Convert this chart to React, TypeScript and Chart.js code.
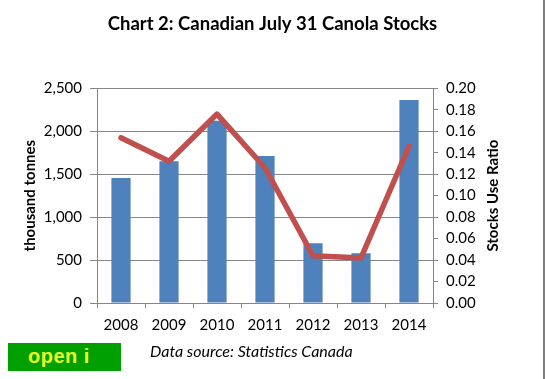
import React, { useEffect, useRef } from "react";
import { Chart, registerables } from "chart.js";

Chart.register(...registerables);

const years = ["2008", "2009", "2010", "2011", "2012", "2013", "2014"];
const stocks = [1455, 1652, 2122, 1711, 696, 580, 2363];
const stocksUseRatio = [0.154, 0.132, 0.176, 0.126, 0.044, 0.042, 0.146];
const titleText = "Chart 2: Canadian July 31 Canola Stocks";
const leftTitle = "thousand tonnes";
const rightTitle = "Stocks Use Ratio";
const sourceText = "Data source: Statistics Canada";
const badgeText = "open i";

const FONT = "Lato, 'Open Sans', sans-serif";
const GRID = "#868686";

const rightTitlePlugin = {
  id: "rightTitle",
  afterDraw(chart: any) {
    const { ctx, chartArea } = chart;
    ctx.save();
    ctx.font = `bold 15px ${FONT}`;
    ctx.fillStyle = "#000";
    ctx.textAlign = "center";
    ctx.textBaseline = "middle";
    ctx.translate(493, (chartArea.top + chartArea.bottom) / 2);
    ctx.rotate(-Math.PI / 2);
    ctx.fillText(rightTitle, 0, 0);
    ctx.restore();
  },
};

export default function App() {
  const ref = useRef<HTMLCanvasElement>(null);
  useEffect(() => {
    const chart = new Chart(ref.current!, {
      type: "bar",
      data: {
        labels: years,
        datasets: [
          {
            type: "line",
            label: "Stocks Use Ratio",
            data: stocksUseRatio,
            yAxisID: "y1",
            borderColor: "#C0504D",
            backgroundColor: "#C0504D",
            borderWidth: 5.5,
            pointRadius: 0,
            tension: 0,
            fill: false,
            borderCapStyle: "round",
            borderJoinStyle: "round",
            order: 0,
          } as any,
          {
            type: "bar",
            label: "Stocks",
            data: stocks,
            yAxisID: "y",
            backgroundColor: "#4F81BD",
            categoryPercentage: 1,
            barPercentage: 0.4,
            order: 1,
          },
        ],
      },
      options: {
        responsive: false,
        animation: false,
        devicePixelRatio: 1,
        layout: { padding: 0 },
        plugins: {
          legend: { display: false },
          tooltip: { enabled: false },
          title: {
            display: true,
            text: titleText,
            color: "#000",
            font: { family: FONT, size: 18.5, weight: "bold" },
            padding: { top: 13, bottom: 53.1 },
          },
        },
        scales: {
          x: {
            grid: {
              offset: true,
              drawOnChartArea: false,
              drawTicks: true,
              tickLength: 5,
              color: GRID,
            },
            border: { color: GRID },
            ticks: { color: "#000", font: { family: FONT, size: 15 }, padding: 8 },
            afterFit: (s: any) => {
              s.height = 76;
            },
          },
          y: {
            position: "left",
            min: 0,
            max: 2500,
            ticks: {
              stepSize: 500,
              color: "#000",
              font: { family: FONT, size: 15 },
              padding: 8,
              callback: (v: any) => Number(v).toLocaleString("en-US"),
            },
            grid: { color: GRID, tickLength: 7 },
            border: { color: GRID },
            title: {
              display: true,
              text: leftTitle,
              color: "#000",
              font: { family: FONT, size: 15, weight: "bold" },
              padding: { top: 21.5, bottom: 0 },
            },
            afterFit: (s: any) => {
              s.width = 97;
            },
          },
          y1: {
            position: "right",
            min: 0,
            max: 0.2,
            ticks: {
              stepSize: 0.02,
              color: "#000",
              font: { family: FONT, size: 15 },
              padding: 8,
              callback: (v: any) => Number(v).toFixed(2),
            },
            grid: { drawOnChartArea: false, color: GRID, tickLength: 5 },
            border: { color: GRID },
            afterFit: (s: any) => {
              s.width = 112;
            },
          },
        },
      },
      plugins: [rightTitlePlugin],
    });
    return () => chart.destroy();
  }, []);

  return (
    <div style={{ position: "absolute", left: 0, top: 0, width: 545, height: 379, background: "#fff", overflow: "hidden" }}>
      <canvas ref={ref} width={545} height={379} style={{ position: "absolute", left: 0, top: 0 }} />
      <div style={{ position: "absolute", left: 543, top: 0, width: 2, height: 379, background: "#808080" }} />
      <div
        style={{
          position: "absolute",
          left: 8,
          top: 343,
          width: 113,
          height: 28,
          background: "#00A000",
          color: "#EEFF22",
          fontFamily: "'Liberation Sans', Arial, sans-serif",
          fontWeight: "bold",
          fontSize: 20,
          lineHeight: "26px",
          paddingLeft: 20,
          letterSpacing: 0.5,
          boxSizing: "border-box",
        }}
      >
        {badgeText}
      </div>
      <div
        style={{
          position: "absolute",
          left: 150,
          top: 341,
          fontFamily: FONT,
          fontStyle: "italic",
          fontSize: 16,
          lineHeight: "19px",
          color: "#000",
          whiteSpace: "nowrap",
        }}
      >
        {sourceText}
      </div>
    </div>
  );
}
